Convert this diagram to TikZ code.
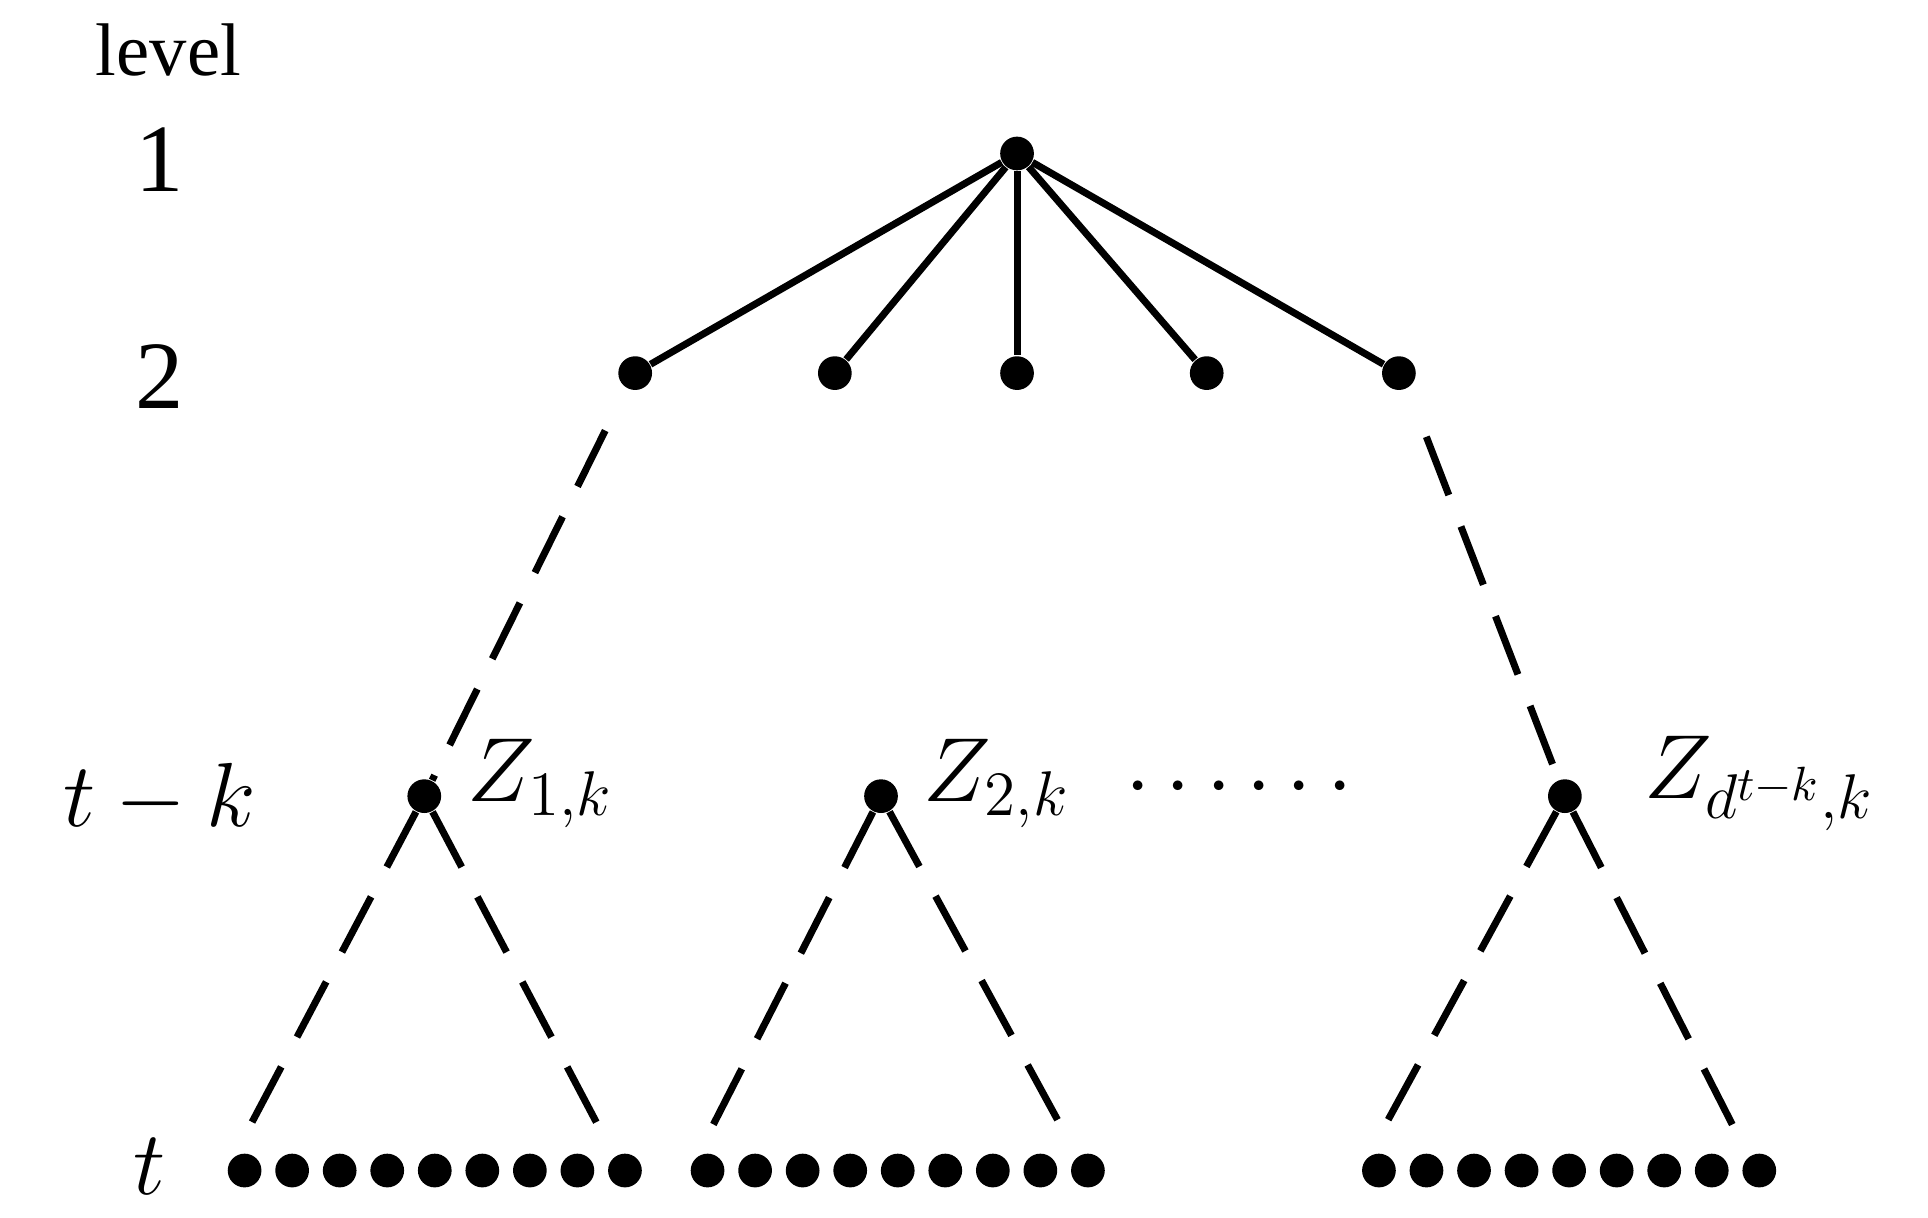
\documentclass[tikz,border=0pt]{standalone}
\usepackage{fontspec}
\setmainfont{Liberation Serif}
\usetikzlibrary{calc}
\begin{document}
\begin{tikzpicture}[x=0.01cm,y=-0.01cm,
  dot/.style={circle,fill=black,inner sep=0pt,minimum size=0.27cm},
  edge/.style={line width=1.6pt},
  dsh/.style={line width=1.6pt,dash pattern=on 0.5cm off 0.27cm},
  lab/.style={font=\fontsize{22}{24}\selectfont}]
\useasboundingbox (0,0) rectangle (1545,976);
\node[dot] (r) at (815,123) {};
\foreach \x [count=\i] in {509,669,815,967,1121} \node[dot] (b\i) at (\x,299) {};
\foreach \i in {1,...,5} \draw[edge] (r) -- (b\i);
\node[dot] (m1) at (340,638) {};
\node[dot] (m2) at (706,638) {};
\node[dot] (m3) at (1254,638) {};
\foreach \s [count=\g] in {196,567,1105}{
  \foreach \j in {0,...,8} \node[dot] (l\g-\j) at ({\s+\j*38.1},938) {};
}
\coordinate (a1) at (485,345); \coordinate (a2) at (1143,350);
\draw[dsh] (a1) -- (m1);
\draw[dsh] (a2) -- (m3);
\foreach \g in {1,2,3}{
  \draw[dsh] (m\g) -- ($(l\g-0)+(-5,-18)$);
  \draw[dsh] (m\g) -- ($(l\g-8)+(-12,-18)$);
}
\node[lab] (lv) at (135,40) {\fontsize{17}{19}\selectfont level};
\node[lab] (n1) at (128,128) {1};
\node[lab] (n2) at (128,302) {2};
\node[lab] (n3) at (128,640) {$t-k$};
\node[lab] (n4) at (120,935) {$t$};
\node[lab,anchor=west] (z1) at (362,628) {$Z_{1,k}$};
\node[lab,anchor=west] (z2) at (728,628) {$Z_{2,k}$};
\node[lab,anchor=west] (z3) at (1305,628) {$Z_{d^{t-k},k}$};
\node[lab] (dd) at (993,632) {$\cdots\cdots$};
\end{tikzpicture}
\end{document}
